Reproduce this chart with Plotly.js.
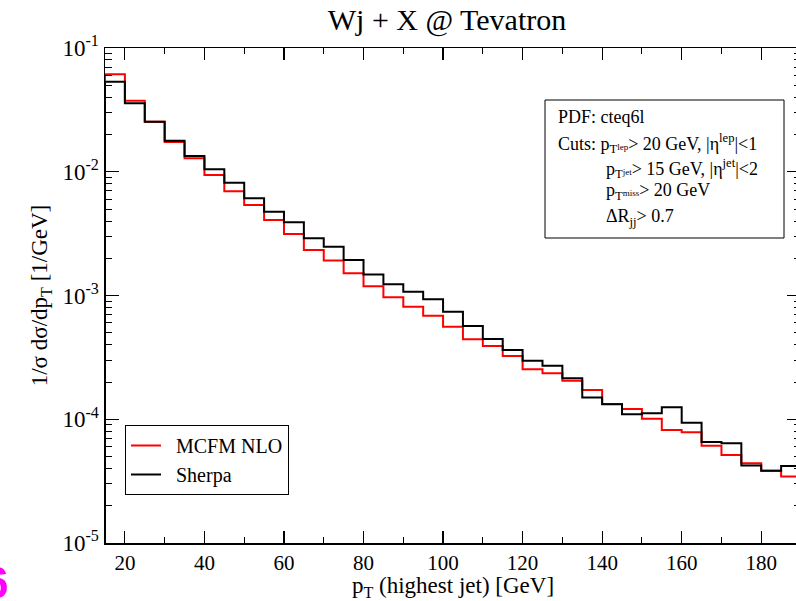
<!DOCTYPE html>
<html>
<head>
<meta charset="utf-8">
<script src="https://cdn.plot.ly/plotly-3.0.1.min.js"></script>
<style>
html,body{margin:0;padding:0;overflow:hidden;background:#fff;}
#chart{width:810px;height:601px;}
</style>
</head>
<body>
<div id="chart"></div>
<script>
// Bin lower edges (GeV), bin width 5 GeV
const binEdges = [15,20,25,30,35,40,45,50,55,60,65,70,75,80,85,90,95,100,105,110,115,120,125,130,135,140,145,150,155,160,165,170,175,180,185,190];
// MCFM NLO normalized distribution
const mcfmValues = [0.0613,0.0375,0.0254,0.0174,0.01285,0.00942,0.00695,0.00539,0.00407,0.00314,0.00233,0.00192,0.00151,0.00119,0.000966,0.000812,0.000687,0.00056,0.000443,0.000391,0.000324,0.000253,0.000235,0.000205,0.000172,0.000133,0.000121,0.000101,0.0000818,0.0000785,0.0000611,0.0000514,0.000044,0.0000384,0.0000344];
// Sherpa normalized distribution
const sherpaValues = [0.0534,0.0357,0.0254,0.0178,0.0134,0.01047,0.00815,0.0061,0.00475,0.0039,0.0029,0.00248,0.00194,0.00148,0.00123,0.00107,0.000932,0.00074,0.000567,0.000445,0.000363,0.000297,0.000271,0.000214,0.00015,0.000132,0.00011,0.000112,0.000125,0.0000938,0.0000655,0.000064,0.0000422,0.0000384,0.0000419];
const yTickVals = [1e-5,1e-4,1e-3,1e-2,1e-1];
const yTickText = ['10<sup>-5</sup>','10<sup>-4</sup>','10<sup>-3</sup>','10<sup>-2</sup>','10<sup>-1</sup>'];
const xTickVals = [20,40,60,80,100,120,140,160,180];
const yFloor = 1e-5;

function stepTrace(vals, name, color){
  const x = [binEdges[0]];
  const y = [yFloor];
  for(let i=0;i<vals.length;i++){ x.push(binEdges[i]); y.push(vals[i]); }
  x.push(binEdges[binEdges.length-1]); y.push(vals[vals.length-1]);
  return {x:x, y:y, type:'scatter', mode:'lines', name:name,
    line:{shape:'hv', color:color, width:2}};
}

const minorY = [];
for(let e=-5;e<-1;e++){ for(let m=2;m<=9;m++){ minorY.push(m*Math.pow(10,e)); } }

const serif = 'Liberation Serif, Times New Roman, serif';
const data = [stepTrace(mcfmValues,'\u00a0\u00a0MCFM NLO','#ff0000'), stepTrace(sherpaValues,'\u00a0\u00a0Sherpa','#000000')];

const pxL=105, pxR=801, pxT=48, pxB=543;
const W=pxR-pxL, H=pxB-pxT;
const px = v => (v-pxL)/W;
const py = v => (pxB-v)/H;

const layout = {
  width:810, height:601,
  margin:{l:pxL, r:810-pxR, t:pxT, b:601-pxB},
  paper_bgcolor:'#fff', plot_bgcolor:'#fff',
  font:{family:serif, color:'#000'},
  showlegend:true,
  title:{text:'Wj + X @ Tevatron', font:{family:serif, size:30, color:'#000'}, xref:'paper', x:px(447), xanchor:'center', yref:'container', y:1-19/601, yanchor:'middle'},
  xaxis:{range:[15,190], tickmode:'array', tickvals:xTickVals, ticks:'inside', ticklen:12, tickwidth:1.2, tickcolor:'#000',
    showline:true, linecolor:'#000', linewidth:1.5, mirror:'ticks', showgrid:false, zeroline:false,
    tickfont:{family:serif, size:21, color:'#000'},
    minor:{tickmode:'array', tickvals:[30,50,70,90,110,130,150,170], ticks:'inside', ticklen:6, tickcolor:'#000', tickwidth:1},
    title:{text:'p<sub>T</sub> (highest jet) [GeV]', font:{family:serif, size:23, color:'#000'}, standoff:4}},
  yaxis:{type:'log', range:[-5,-1], tickmode:'array', tickvals:yTickVals, ticktext:yTickText, ticks:'inside', ticklen:14, tickwidth:1.2, tickcolor:'#000',
    showline:true, linecolor:'#000', linewidth:1.5, mirror:'ticks', showgrid:false, zeroline:false,
    tickfont:{family:serif, size:23, color:'#000'},
    minor:{tickmode:'array', tickvals:minorY, ticks:'inside', ticklen:7, tickcolor:'#000', tickwidth:1},
    title:{text:'1/σ dσ/dp<sub>T</sub> [1/GeV]', font:{family:serif, size:23, color:'#000'}, standoff:8}},
  legend:{x:px(125), y:py(425), xanchor:'left', yanchor:'top', bgcolor:'#fff', bordercolor:'#000', borderwidth:1,
    font:{family:serif, size:20, color:'#000'}, tracegroupgap:0, itemwidth:30},
  shapes:[{type:'rect', xref:'paper', yref:'paper', x0:px(545), x1:px(784), y0:py(238), y1:py(100), line:{color:'#000', width:1}, fillcolor:'rgba(255,255,255,0)'}],
  annotations:[
    {text:'PDF: cteq6l', x:px(556), y:py(117), xref:'paper', yref:'paper', xanchor:'left', yanchor:'middle', showarrow:false, font:{family:serif,size:18,color:'#000'}},
    {text:'Cuts: p<sub>T</sub><span style="font-size:9px">lep</span>> 20 GeV, |η<sup>lep</sup>|<1', x:px(556), y:py(143), xref:'paper', yref:'paper', xanchor:'left', yanchor:'middle', showarrow:false, font:{family:serif,size:18,color:'#000'}},
    {text:'p<sub>T</sub><span style="font-size:9px">jet</span>> 15 GeV, |η<sup>jet</sup>|<2', x:px(604), y:py(168), xref:'paper', yref:'paper', xanchor:'left', yanchor:'middle', showarrow:false, font:{family:serif,size:18,color:'#000'}},
    {text:'p<sub>T</sub><span style="font-size:9px">miss</span>> 20 GeV', x:px(604), y:py(191), xref:'paper', yref:'paper', xanchor:'left', yanchor:'middle', showarrow:false, font:{family:serif,size:18,color:'#000'}},
    {text:'ΔR<sub>jj</sub>> 0.7', x:px(604), y:py(217), xref:'paper', yref:'paper', xanchor:'left', yanchor:'middle', showarrow:false, font:{family:serif,size:18,color:'#000'}},
    {text:'<b>6</b>', x:px(10), y:py(582), xref:'paper', yref:'paper', xanchor:'right', yanchor:'middle', showarrow:false, font:{family:'Liberation Sans, Arial, sans-serif',size:44,color:'#ff00ff'}}
  ]
};
Plotly.newPlot('chart', data, layout, {displayModeBar:false, staticPlot:true});
</script>
</body>
</html>
